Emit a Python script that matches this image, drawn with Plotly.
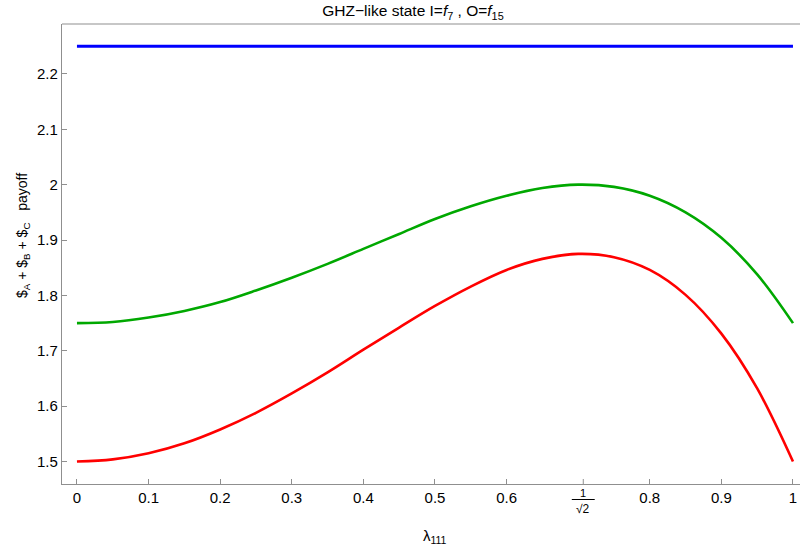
import math
import plotly.graph_objects as go

# λ111 sample positions and total payoff of the three players
lam = [0.0, 0.05, 0.1, 0.15, 0.2, 0.25, 0.3, 0.35, 0.4, 0.45, 0.5,
       0.55, 0.6, 0.65, 0.7, 0.75, 0.8, 0.85, 0.9, 0.95, 1.0]
payoff_green = [1.750, 1.752, 1.760, 1.772, 1.788, 1.809, 1.832, 1.857, 1.884, 1.911, 1.938,
                1.961, 1.980, 1.994, 2.000, 1.996, 1.980, 1.950, 1.904, 1.838, 1.750]
payoff_red = [1.500, 1.504, 1.515, 1.533, 1.558, 1.588, 1.623, 1.661, 1.702, 1.742, 1.781,
              1.816, 1.846, 1.866, 1.875, 1.869, 1.846, 1.801, 1.731, 1.632, 1.500]
lam_flat = [0.0, 1.0]
payoff_blue = [2.25, 2.25]

x_ticks = [0, 0.1, 0.2, 0.3, 0.4, 0.5, 0.6, 0.8, 0.9, 1]
x_ticktext = ["0", "0.1", "0.2", "0.3", "0.4", "0.5", "0.6", "0.8", "0.9", "1"]
r2 = 1 / math.sqrt(2)  # extra tick, labelled as a stacked fraction 1/√2
y_ticks = [1.5, 1.6, 1.7, 1.8, 1.9, 2.0, 2.1, 2.2]
y_ticktext = ["1.5", "1.6", "1.7", "1.8", "1.9", "2", "2.1", "2.2"]

FONT = "Liberation Sans, Arial, sans-serif"
FRAME = "#8f8f8f"
W, H = 800, 551
M_L, M_R, M_T, M_B = 62, 0, 24, 67
plot_w = W - M_L - M_R
plot_h = H - M_T - M_B

fig = go.Figure()
fig.add_trace(go.Scatter(x=lam_flat, y=payoff_blue, mode="lines",
                         line=dict(color="#0000ff", width=3)))
fig.add_trace(go.Scatter(x=lam, y=payoff_green, mode="lines", line_shape="spline",
                         line=dict(color="#00a800", width=2.6)))
fig.add_trace(go.Scatter(x=lam, y=payoff_red, mode="lines", line_shape="spline",
                         line=dict(color="#ff0000", width=2.6)))


def px(col):
    # pixel column on the page -> paper x
    return (col - M_L) / plot_w


def py(row):
    # pixel row measured from the top of the page -> paper y
    return (H - M_B - row) / plot_h


annotations = [
    dict(text="1", x=r2, y=py(493), xref="x", yref="paper", showarrow=False,
         font=dict(family=FONT, size=11, color="black"), xanchor="center", yanchor="middle"),
    dict(text="√2", x=r2, y=py(509), xref="x", yref="paper", showarrow=False,
         font=dict(family=FONT, size=12, color="black"), xanchor="center", yanchor="middle"),
    dict(text="$<sub>A</sub> + $<sub>B</sub> + $<sub>C</sub>\u00a0\u00a0\u00a0payoff",
         x=px(23), y=py(236), xref="paper", yref="paper", showarrow=False,
         textangle=-90, font=dict(family=FONT, size=14, color="black"),
         xanchor="center", yanchor="middle"),
    dict(text="λ<sub>111</sub>", x=px(435), y=py(536),
         xref="paper", yref="paper", showarrow=False,
         font=dict(family=FONT, size=15, color="black"),
         xanchor="center", yanchor="middle"),
]
shapes = [
    # fraction bar of the 1/√2 label
    dict(type="line", xref="x", yref="paper",
         x0=r2 - 0.016, x1=r2 + 0.016, y0=py(499.5), y1=py(499.5),
         line=dict(color="black", width=1)),
    # tick mark at 1/√2
    dict(type="line", xref="x", yref="paper",
         x0=r2, x1=r2, y0=0, y1=5 / plot_h,
         line=dict(color=FRAME, width=1)),
    # top edge of the frame
    dict(type="line", xref="paper", yref="paper", x0=0, x1=1, y0=1, y1=1,
         line=dict(color=FRAME, width=1.2)),
]

fig.update_layout(
    width=W, height=H,
    margin=dict(l=M_L, r=M_R, t=M_T, b=M_B),
    paper_bgcolor="white", plot_bgcolor="white",
    showlegend=False,
    title=dict(text="GHZ\u2212like state I=<i>f</i><sub>7</sub> , O=<i>f</i><sub>15</sub>",
               x=413 / W, xref="container", xanchor="center",
               y=(H - 11) / H, yref="container", yanchor="middle",
               font=dict(family=FONT, size=15.5, color="black")),
    xaxis=dict(range=[-0.0209, 1.0098], tickmode="array", tickvals=x_ticks,
               ticktext=x_ticktext, ticks="inside", ticklen=5, tickwidth=1,
               tickcolor=FRAME, showline=True, linecolor=FRAME, linewidth=1.2,
               showgrid=False, zeroline=False,
               tickfont=dict(family=FONT, size=15, color="black")),
    yaxis=dict(range=[1.4595, 2.2901], tickmode="array", tickvals=y_ticks,
               ticktext=y_ticktext, ticks="inside", ticklen=5, tickwidth=1,
               tickcolor=FRAME, showline=True, linecolor=FRAME, linewidth=1.2,
               showgrid=False, zeroline=False,
               tickfont=dict(family=FONT, size=15, color="black")),
    annotations=annotations,
    shapes=shapes,
)

fig.write_html("out.html")
